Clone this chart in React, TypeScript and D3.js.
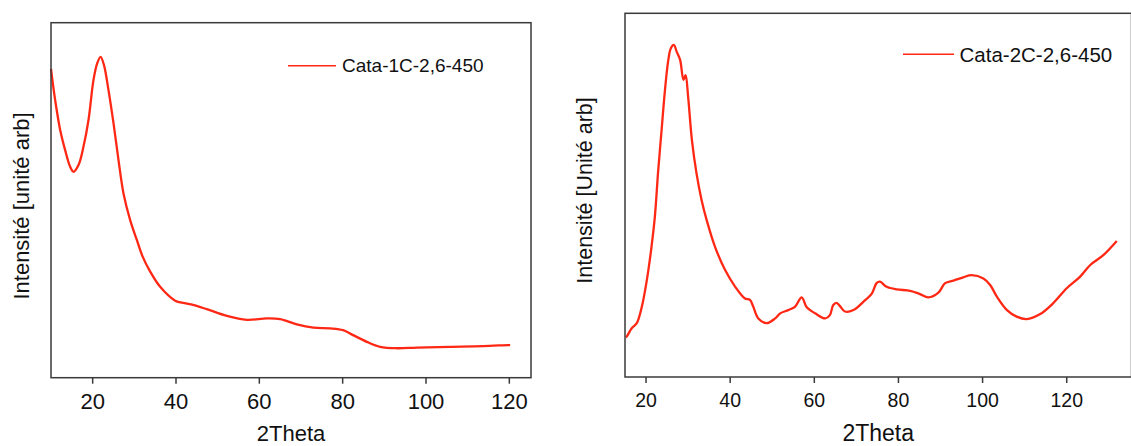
import React from "react";
import * as d3 from "d3";

// ---- Data ----
const theta1 = [10.0, 10.6, 11.0, 12.2, 13.4, 14.6, 15.4, 16.6, 17.8, 19.0, 20.2, 21.1, 21.9, 22.7, 23.8, 25.0, 26.2, 27.4, 29.0, 30.6, 32.0, 33.8, 36.2, 39.8, 42.0, 44.1, 47.4, 52.2, 57.0, 61.8, 65.0, 69.0, 73.0, 77.0, 80.1, 82.5, 85.8, 89.0, 93.0, 97.8, 105.8, 113.7, 119.7, 120.2];
const int1 = [87.0, 81.5, 78.2, 69.8, 64.1, 59.4, 58.0, 59.9, 65.1, 72.6, 83.9, 88.6, 90.4, 88.1, 81.0, 71.7, 61.3, 51.9, 44.4, 38.8, 34.1, 29.9, 25.6, 21.7, 21.0, 20.5, 19.3, 17.4, 16.3, 16.7, 16.5, 15.0, 14.1, 13.9, 13.4, 12.0, 10.1, 8.7, 8.3, 8.5, 8.7, 8.9, 9.2, 9.2];

const theta2 = [15.2, 15.4, 16.6, 17.8, 19.0, 20.2, 21.3, 22.1, 22.9, 23.7, 24.5, 25.3, 25.9, 26.6, 27.3, 28.1, 28.9, 29.4, 30.0, 30.9, 32.0, 33.2, 34.4, 36.4, 38.8, 41.2, 43.5, 44.7, 45.5, 46.7, 48.7, 50.7, 51.9, 53.8, 55.4, 57.0, 58.2, 60.2, 62.6, 63.7, 64.5, 65.3, 66.1, 67.3, 69.3, 71.7, 73.7, 74.8, 75.6, 77.2, 79.6, 82.8, 85.1, 87.1, 89.5, 91.1, 93.1, 95.4, 97.4, 100.2, 101.8, 103.4, 105.8, 108.1, 110.5, 113.7, 116.8, 120.0, 123.2, 125.6, 128.7, 131.9];
const int2 = [10.9, 11.1, 13.4, 14.8, 19.3, 26.7, 35.8, 44.1, 56.9, 67.9, 78.9, 87.2, 90.4, 91.3, 89.4, 87.2, 81.7, 83.0, 77.1, 65.2, 56.0, 48.7, 43.2, 35.8, 29.4, 24.8, 21.6, 21.2, 19.3, 16.1, 14.8, 16.1, 17.5, 18.4, 19.3, 21.9, 19.2, 17.5, 16.1, 17.0, 19.8, 20.4, 19.5, 18.0, 18.4, 20.7, 23.0, 25.8, 26.2, 24.8, 24.1, 23.7, 22.8, 21.9, 23.2, 25.8, 26.5, 27.4, 28.0, 27.1, 25.3, 22.1, 18.4, 16.6, 15.9, 17.3, 20.3, 24.4, 27.6, 30.8, 33.5, 37.4];

const ticks = [20, 40, 60, 80, 100, 120];
const xTitle = "2Theta";
const yTitle1 = "Intensité [unité arb]";
const yTitle2 = "Intensité [Unité arb]";
const legend1 = "Cata-1C-2,6-450";
const legend2 = "Cata-2C-2,6-450";

const RED = "#ff2814";
const AX = "#3a3a3a";
const FONT = "Liberation Sans, Arial, Helvetica, sans-serif";

type PanelProps = {
  xs: number[]; ys: number[]; xDomain: [number, number];
  left: number; right: number; top: number; bottom: number;
  tickFont: number; tickBase: number; titleFont: number; titleBase: number;
  yTitle: string; yTitleFont: number; yTitleX: number; yTitleY: number;
  legend: string; legFont: number; legX1: number; legX2: number; legY: number; legTextX: number; legBase: number;
};

function Panel(p: PanelProps) {
  const x = d3.scaleLinear().domain(p.xDomain).range([p.left, p.right]);
  const y = d3.scaleLinear().domain([0, 100]).range([p.bottom, p.top]);
  const pts = p.xs.map((v, i) => [v, p.ys[i]] as [number, number]);
  const line = d3.line<[number, number]>().x(d => x(d[0])).y(d => y(d[1])).curve(d3.curveCatmullRom.alpha(0.5));
  return (
    <g>
      <path d={line(pts) || ""} fill="none" stroke={RED} strokeWidth={2.3} strokeLinejoin="round" />
      <rect x={p.left} y={p.top} width={p.right - p.left} height={p.bottom - p.top} fill="none" stroke={AX} strokeWidth={1.5} />
      {ticks.map(t => (
        <g key={t}>
          <line x1={x(t)} x2={x(t)} y1={p.bottom} y2={p.bottom + 6} stroke={AX} strokeWidth={1.5} />
          <text x={x(t)} y={p.tickBase} textAnchor="middle" fontSize={p.tickFont} fontFamily={FONT} fill="#111">{t}</text>
        </g>
      ))}
      <text x={(p.left + p.right) / 2} y={p.titleBase} textAnchor="middle" fontSize={p.titleFont} fontFamily={FONT} fill="#111">{xTitle}</text>
      <text transform={`translate(${p.yTitleX},${p.yTitleY}) rotate(-90)`} textAnchor="middle" fontSize={p.yTitleFont} fontFamily={FONT} fill="#111">{p.yTitle}</text>
      <line x1={p.legX1} x2={p.legX2} y1={p.legY} y2={p.legY} stroke={RED} strokeWidth={1.5} />
      <text x={p.legTextX} y={p.legBase} fontSize={p.legFont} fontFamily={FONT} fill="#111">{p.legend}</text>
    </g>
  );
}

export default function App() {
  return (
    <svg width={1131} height={446} style={{ position: "absolute", left: 0, top: 0, background: "#fff" }}>
      <Panel xs={theta1} ys={int1} xDomain={[10, 125.2]} left={51} right={531} top={22.7} bottom={377.7}
        tickFont={22} tickBase={408.5} titleFont={22} titleBase={440.5}
        yTitle={yTitle1} yTitleFont={22} yTitleX={29} yTitleY={206}
        legend={legend1} legFont={19} legX1={288} legX2={336} legY={65.7} legTextX={342} legBase={72.3} />
      <Panel xs={theta2} ys={int2} xDomain={[15, 135.4]} left={625} right={1131.5} top={13.3} bottom={377}
        tickFont={19.5} tickBase={407} titleFont={23} titleBase={440.5}
        yTitle={yTitle2} yTitleFont={21.5} yTitleX={592} yTitleY={190.5}
        legend={legend2} legFont={20.5} legX1={903} legX2={954} legY={54.3} legTextX={959.5} legBase={61.7} />
    </svg>
  );
}
